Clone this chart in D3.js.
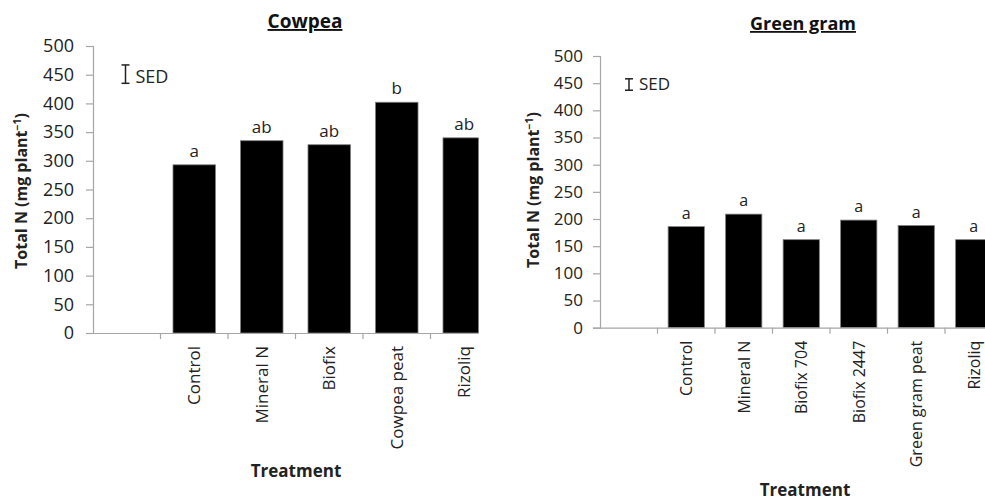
<!DOCTYPE html>
<html>
<head>
<meta charset="utf-8">
<script src="https://cdn.jsdelivr.net/npm/d3@7"></script>
<style>
  html, body { margin: 0; padding: 0; background: #fff; }
  svg { display: block; font-family: "Open Sans", Lato, sans-serif; }
</style>
</head>
<body>
<svg id="chart" width="985" height="500"></svg>
<script>
// Cowpea panel
const cowpeaTreatments = ["", "Control", "Mineral N", "Biofix", "Cowpea peat", "Rizoliq"];
const cowpeaTotalN = [null, 293, 335, 328, 402, 340];
const cowpeaLetters = ["", "a", "ab", "ab", "b", "ab"];
const cowpeaSED = 32;

// Green gram panel
const greenTreatments = ["", "Control", "Mineral N", "Biofix 704", "Biofix 2447", "Green gram peat", "Rizoliq"];
const greenTotalN = [null, 186, 209, 162, 198, 188, 162];
const greenLetters = ["", "a", "a", "a", "a", "a", "a"];
const greenSED = 21;

const yTicks = [0, 50, 100, 150, 200, 250, 300, 350, 400, 450, 500];

const svg = d3.select("#chart");
const axisGrey = "#a6a6a6";
const ink = "#222";

function panel(cfg) {
  const g = svg.append("g");
  const y = d3.scaleLinear().domain([0, 500]).range([cfg.y0, cfg.y500]);
  const x = d3.scaleBand()
    .domain(cfg.cats)
    .range([cfg.xLeft, cfg.xRight])
    .paddingInner(0.37)
    .paddingOuter(0.185);
  const gap = x.step() * 0.37 / 2;

  const clipId = "clip-" + cfg.id;
  svg.append("defs").append("clipPath").attr("id", clipId)
    .append("rect").attr("x", cfg.xLeft - 10).attr("y", 0)
    .attr("width", cfg.clipRight - cfg.xLeft + 10).attr("height", 500);

  const plot = g.append("g").attr("clip-path", `url(#${clipId})`);

  // bars
  const rows = cfg.cats.map((c, i) => ({ c, v: cfg.values[i], l: cfg.letters[i] }))
    .filter(d => d.v != null);
  plot.selectAll("rect.bar").data(rows).join("rect")
    .attr("class", "bar")
    .attr("x", d => x(d.c))
    .attr("width", x.bandwidth())
    .attr("y", d => y(d.v))
    .attr("height", d => y(0) - y(d.v))
    .attr("fill", "#000")
    .attr("stroke", "#7f7f7f")
    .attr("stroke-width", 0.8);

  // x axis line and category boundary ticks
  plot.append("line")
    .attr("x1", cfg.xLeft).attr("x2", cfg.xRight)
    .attr("y1", y(0) + 0.5).attr("y2", y(0) + 0.5)
    .attr("stroke", axisGrey).attr("stroke-width", 1.2);
  plot.selectAll("line.xt").data(cfg.cats.slice(1)).join("line")
    .attr("class", "xt")
    .attr("x1", d => x(d) - gap).attr("x2", d => x(d) - gap)
    .attr("y1", y(0)).attr("y2", y(0) + 6)
    .attr("stroke", axisGrey).attr("stroke-width", 1.2);

  // significance letters
  g.selectAll("text.let").data(rows).join("text")
    .attr("class", "let")
    .attr("x", d => x(d.c) + x.bandwidth() / 2)
    .attr("y", d => y(d.v) - 8)
    .attr("text-anchor", "middle")
    .attr("font-size", cfg.fs)
    .attr("fill", ink)
    .text(d => d.l);

  // y axis
  const yAxis = d3.axisLeft(y).tickValues(yTicks).tickSize(7).tickPadding(cfg.tickPad);
  const ya = g.append("g").attr("transform", `translate(${cfg.xLeft},0)`).call(yAxis);
  ya.select(".domain").attr("stroke", axisGrey).attr("stroke-width", 1.2);
  ya.selectAll(".tick line").attr("stroke", axisGrey).attr("stroke-width", 1.2);
  ya.selectAll(".tick text").attr("font-size", cfg.fsTick).attr("fill", ink)
    .attr("font-family", "'Open Sans', sans-serif");

  // category labels, rotated
  g.selectAll("text.cat").data(cfg.cats.slice(1)).join("text")
    .attr("class", "cat")
    .attr("transform", d => `translate(${x(d) + x.bandwidth() / 2 + 6},${y(0) + 13}) rotate(-90)`)
    .attr("text-anchor", "end")
    .attr("font-size", cfg.fsCat)
    .attr("fill", ink)
    .text(d => d);

  // y axis title
  const yt = g.append("text")
    .attr("transform", `translate(${cfg.yTitleX},${cfg.yTitleY}) rotate(-90)`)
    .attr("text-anchor", "middle")
    .attr("font-size", 16)
    .attr("font-weight", "bold")
    .attr("fill", ink);
  yt.append("tspan").text("Total N (mg plant");
  yt.append("tspan").attr("font-size", 10.5).attr("dy", -6).text("−1");
  yt.append("tspan").attr("dy", 6).text(")");

  // x axis title
  g.append("text")
    .attr("x", cfg.xTitleX).attr("y", cfg.xTitleY)
    .attr("text-anchor", "middle")
    .attr("font-size", 17)
    .attr("font-weight", "bold")
    .attr("fill", ink)
    .text("Treatment");

  // panel title, underlined
  g.append("text")
    .attr("x", cfg.titleX).attr("y", cfg.titleY)
    .attr("text-anchor", "middle")
    .attr("font-size", cfg.fsTitle)
    .attr("font-weight", "bold")
    .attr("text-decoration", "underline")
    .attr("fill", "#111")
    .text(cfg.title);

  // SED bar
  const sx = cfg.sedX;
  const sTop = y(cfg.sedBase + cfg.sed), sBot = y(cfg.sedBase);
  const sed = g.append("g").attr("stroke", ink).attr("stroke-width", 1.5);
  sed.append("line").attr("x1", sx).attr("x2", sx).attr("y1", sTop).attr("y2", sBot);
  sed.append("line").attr("x1", sx - 4).attr("x2", sx + 4).attr("y1", sTop).attr("y2", sTop);
  sed.append("line").attr("x1", sx - 4).attr("x2", sx + 4).attr("y1", sBot).attr("y2", sBot);
  g.append("text")
    .attr("x", sx + 10).attr("y", sBot)
    .attr("font-size", cfg.fsTick)
    .attr("fill", ink)
    .text("SED");
}

panel({
  id: "cowpea", cats: cowpeaTreatments, values: cowpeaTotalN, letters: cowpeaLetters,
  xLeft: 93, xRight: 498, clipRight: 478.5, y0: 333, y500: 46,
  yTitleX: 27, yTitleY: 191, xTitleX: 296, xTitleY: 477,
  title: "Cowpea", titleX: 305, titleY: 28, fsTitle: 19,
  fs: 17, fsCat: 17, fsTick: 18, tickPad: 12,
  sed: cowpeaSED, sedBase: 435, sedX: 125.5
});

panel({
  id: "green", cats: greenTreatments, values: greenTotalN, letters: greenLetters,
  xLeft: 600, xRight: 1002.5, clipRight: 985, y0: 327.7, y500: 56,
  yTitleX: 539, yTitleY: 190, xTitleX: 805, xTitleY: 496,
  title: "Green gram", titleX: 803, titleY: 30, fsTitle: 18,
  fs: 16, fsCat: 16, fsTick: 17, tickPad: 10,
  sed: greenSED, sedBase: 437, sedX: 629
});
</script>
</body>
</html>
